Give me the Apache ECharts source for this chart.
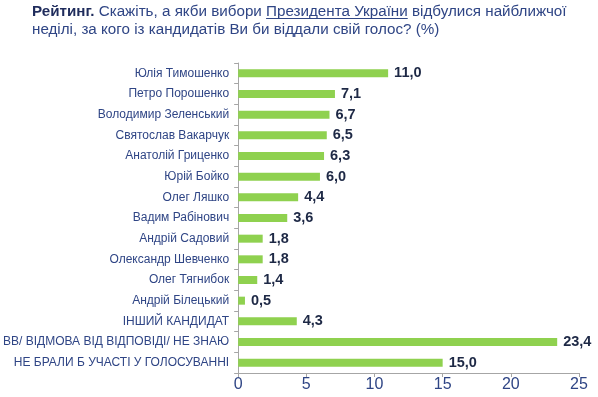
<!DOCTYPE html>
<html>
<head>
    <meta charset="utf-8">
    <script src="https://cdn.jsdelivr.net/npm/echarts@6/dist/echarts.min.js"></script>
</head>
<body>
    <div id="chart"></div>
</body>
<style>
    body {
        margin: 0;
        background: #fff;
    }

    #chart {
        width: 598px;
        height: 397px;
    }
</style>
<script>
    const candidates = [
        'Юлія Тимошенко', 'Петро Порошенко', 'Володимир Зеленський', 'Святослав Вакарчук',
        'Анатолій Гриценко', 'Юрій Бойко', 'Олег Ляшко', 'Вадим Рабінович',
        'Андрій Садовий', 'Олександр Шевченко', 'Олег Тягнибок', 'Андрій Білецький',
        'ІНШИЙ КАНДИДАТ', 'ВВ/ ВІДМОВА ВІД ВІДПОВІДІ/ НЕ ЗНАЮ', 'НЕ БРАЛИ Б УЧАСТІ У ГОЛОСУВАННІ'
    ]
    const rating = [11.0, 7.1, 6.7, 6.5, 6.3, 6.0, 4.4, 3.6, 1.8, 1.8, 1.4, 0.5, 4.3, 23.4, 15.0]
    const xTicks = [0, 5, 10, 15, 20, 25]

    const font = 'Liberation Sans, Arial, sans-serif'
    const titleColor = '#2f4585'
    const titleSize = 15.2
    const titleLeft = 32

    // ширина тексту для підкреслення
    const ctx = document.createElement('canvas').getContext('2d')
    const measure = (txt, weight) => {
        ctx.font = (weight || 'normal') + ' ' + titleSize + 'px ' + font
        return ctx.measureText(txt).width
    }
    const p2 = ' Скажіть, а якби вибори '
    const p3 = 'Президента України'
    const ulStart = titleLeft + measure('Рейтинг.', 'bold') + measure(p2)
    const ulEnd = ulStart + measure(p3)

    const chart = echarts.init(document.getElementById('chart'))
    chart.setOption({
        animation: false,
        title: {
            text: '{b|Рейтинг.}' + p2 + p3 + ' відбулися найближчої\nнеділі, за кого із кандидатів Ви би віддали свій голос? (%)',
            left: titleLeft,
            top: 3,
            padding: 0,
            textStyle: {
                fontFamily: font,
                fontSize: titleSize,
                fontWeight: 'normal',
                color: titleColor,
                lineHeight: 18,
                rich: {
                    b: { fontFamily: font, fontSize: titleSize, fontWeight: 'bold', color: '#1f2c5c', lineHeight: 18 }
                }
            }
        },
        graphic: [{
            type: 'line',
            shape: { x1: ulStart, y1: 18.5, x2: ulEnd, y2: 18.5 },
            style: { stroke: titleColor, lineWidth: 1 }
        }],
        grid: {
            left: 235,
            right: 19,
            top: 63,
            bottom: 24
        },
        xAxis: {
            type: 'value',
            min: xTicks[0],
            max: xTicks[xTicks.length - 1],
            interval: 5,
            splitLine: { show: false },
            axisLine: { show: true, lineStyle: { color: '#a6a6a6' } },
            axisTick: { show: true, length: 4, lineStyle: { color: '#a6a6a6' } },
            axisLabel: { fontFamily: font, fontSize: 16, color: '#2f4585', margin: 4 }
        },
        yAxis: {
            type: 'category',
            data: candidates,
            inverse: true,
            axisLine: { show: true, lineStyle: { color: '#a6a6a6' } },
            axisTick: { show: true, length: 4, lineStyle: { color: '#a6a6a6' } },
            axisLabel: { fontFamily: font, fontSize: 12, color: '#2f4585', margin: 9 }
        },
        series: [{
            type: 'bar',
            data: rating,
            barWidth: 8,
            itemStyle: { color: '#8fd14f' },
            label: {
                show: true,
                position: 'right',
                distance: 6,
                fontFamily: font,
                fontSize: 14.5,
                fontWeight: 'bold',
                color: '#1d2845',
                formatter: p => p.value.toFixed(1).replace('.', ',')
            }
        }]
    })
</script>
</html>
